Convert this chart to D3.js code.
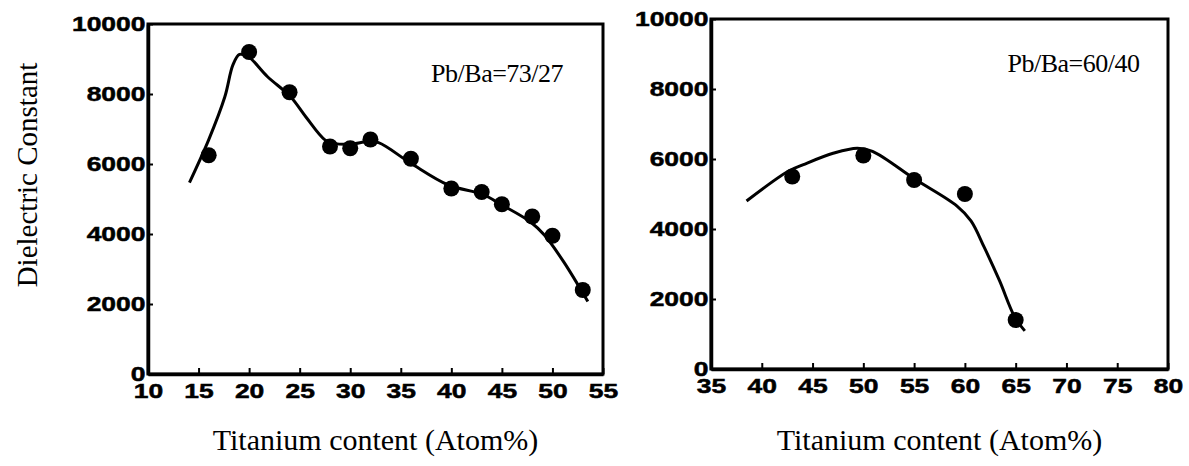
<!DOCTYPE html>
<html>
<head>
<meta charset="utf-8">
<script src="https://cdn.jsdelivr.net/npm/d3@7"></script>
<style>
  body { margin: 0; background: #fff; }
  svg { display: block; }
</style>
</head>
<body>
<div id="chart"></div>
<script>
// Pb/Ba = 73/27 : measured points and fitted curve
const leftTi = [16, 20, 24, 28, 30, 32, 36, 40, 43, 45, 48, 50, 53];
const leftEps = [6250, 9200, 8050, 6500, 6450, 6700, 6150, 5300, 5200, 4850, 4500, 3950, 2400];
const leftCurveTi = [14.1, 16, 17.6, 18.4, 19.05, 19.9, 21.8, 24.1, 25.6, 27.5, 28.4, 30.2, 31.7, 32.8, 36, 39.7, 43.1, 45, 47.8, 49.2, 51.1, 53.5];
const leftCurveEps = [5470, 6690, 7920, 8830, 9130, 9070, 8500, 7920, 7350, 6690, 6590, 6570, 6640, 6610, 6020, 5400, 5130, 4830, 4350, 3970, 3210, 2070];

// Pb/Ba = 60/40
const rightTi = [43, 50, 55, 60, 65];
const rightEps = [5500, 6100, 5400, 5000, 1400];
const rightCurveTi = [38.5, 42.6, 44.1, 47.1, 49.4, 50.9, 55.1, 59.2, 60.6, 61.9, 63.4, 64.9, 65.9];
const rightCurveEps = [4800, 5650, 5840, 6170, 6310, 6220, 5420, 4660, 4230, 3480, 2530, 1490, 1090];

const yTicks = [0, 2000, 4000, 6000, 8000, 10000];
const leftXTicks = [10, 15, 20, 25, 30, 35, 40, 45, 50, 55];
const rightXTicks = [35, 40, 45, 50, 55, 60, 65, 70, 75, 80];

const width = 1189, height = 466;

const svg = d3.select('#chart')
    .append('svg')
    .attr('width', width)
    .attr('height', height);

svg.append('rect').attr('width', width).attr('height', height).attr('fill', '#fff');

function panel(opts) {
    const x = d3.scaleLinear().domain(opts.xDomain).range([opts.left, opts.right]);
    const y = d3.scaleLinear().domain([0, 10000]).range([opts.bottom, opts.top]);
    const g = svg.append('g');

    // frame
    g.append('rect')
        .attr('x', opts.left).attr('y', opts.top)
        .attr('width', opts.right - opts.left)
        .attr('height', opts.bottom - opts.top)
        .attr('fill', 'none').attr('stroke', '#000').attr('stroke-width', 3);

    const xAxis = g.append('g')
        .attr('transform', `translate(0,${opts.bottom})`)
        .call(d3.axisBottom(x).tickValues(opts.xTicks).tickFormat(d3.format('d'))
            .tickSize(-6).tickPadding(9).tickSizeOuter(0));
    const yAxis = g.append('g')
        .attr('transform', `translate(${opts.left},0)`)
        .call(d3.axisLeft(y).tickValues(yTicks).tickFormat(d3.format('d'))
            .tickSizeInner(-5).tickPadding(2).tickSizeOuter(0));

    [xAxis, yAxis].forEach(a => {
        a.select('.domain').attr('stroke-width', 3.5);
        a.selectAll('.tick line').attr('stroke-width', 2);
        a.selectAll('text')
            .attr('font-family', '"Liberation Sans", Arial, sans-serif')
            .attr('font-weight', 'bold')
            .attr('font-size', 21)
            .attr('fill', '#000')
            .attr('stroke', '#000')
            .attr('stroke-width', 0.5)
            .attr('transform', 'scale(1.26,1)');
    });
    // left labels sit against the axis
    yAxis.selectAll('text').attr('x', -2);

    const line = d3.line()
        .x((d, i) => x(opts.curveX[i]))
        .y(d => y(d))
        .curve(d3.curveCatmullRom.alpha(0.5));

    g.append('path')
        .datum(opts.curveY)
        .attr('d', line)
        .attr('fill', 'none')
        .attr('stroke', '#000')
        .attr('stroke-width', 3);

    g.selectAll('circle.pt')
        .data(opts.ptY)
        .enter()
        .append('circle')
        .attr('class', 'pt')
        .attr('cx', (d, i) => x(opts.ptX[i]))
        .attr('cy', d => y(d))
        .attr('r', 8)
        .attr('fill', '#000');

    g.append('text')
        .attr('x', x(opts.noteX))
        .attr('y', y(opts.noteY))
        .attr('font-family', '"Liberation Serif", "Times New Roman", serif')
        .attr('font-size', 26)
        .attr('letter-spacing', -0.5)
        .text(opts.note);

    g.append('text')
        .attr('x', (opts.left + opts.right) / 2)
        .attr('y', 450)
        .attr('text-anchor', 'middle')
        .attr('font-family', '"Liberation Serif", "Times New Roman", serif')
        .attr('font-size', 30)
        .text('Titanium content (Atom%)');
}

panel({
    left: 148, right: 603, top: 24, bottom: 374,
    xDomain: [10, 55], xTicks: leftXTicks,
    ptX: leftTi, ptY: leftEps, curveX: leftCurveTi, curveY: leftCurveEps,
    note: 'Pb/Ba=73/27', noteX: 38, noteY: 8350
});

panel({
    left: 711, right: 1168, top: 19, bottom: 369,
    xDomain: [35, 80], xTicks: rightXTicks,
    ptX: rightTi, ptY: rightEps, curveX: rightCurveTi, curveY: rightCurveEps,
    note: 'Pb/Ba=60/40', noteX: 64.2, noteY: 8500
});

svg.append('text')
    .attr('transform', 'translate(37,175) rotate(-90)')
    .attr('text-anchor', 'middle')
    .attr('font-family', '"Liberation Serif", "Times New Roman", serif')
    .attr('font-size', 29)
    .text('Dielectric Constant');
</script>
</body>
</html>
